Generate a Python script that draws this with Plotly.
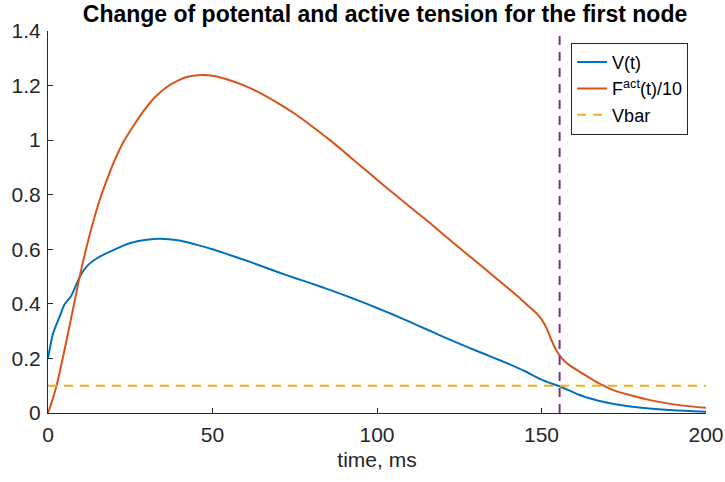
import plotly.graph_objects as go

# Membrane potential V(t) for the first node
t_v = [0, 1.5, 3.5, 5, 7, 9.7, 12, 15, 20, 25, 30, 34, 40, 45, 50, 55, 60, 65,
       70, 75, 80, 85, 90, 95, 100, 105, 110, 115, 120, 125, 130, 135, 140,
       145, 150, 153, 155.5, 158, 162, 167, 172, 177, 182, 190, 200]
v = [0.200, 0.290, 0.352, 0.398, 0.428, 0.500, 0.540, 0.568, 0.598, 0.623,
     0.635, 0.639, 0.632, 0.617, 0.600, 0.580, 0.560, 0.538, 0.516, 0.495,
     0.475, 0.454, 0.432, 0.409, 0.385, 0.360, 0.334, 0.307, 0.280, 0.254,
     0.229, 0.205, 0.180, 0.153, 0.122, 0.108, 0.098, 0.085, 0.064, 0.046,
     0.033, 0.024, 0.017, 0.010, 0.005]

# Active tension F_act(t), scaled by 1/10
t_f = [0, 1, 2.6, 5, 7.5, 10, 12.5, 15.3, 18, 20.4, 23, 26.4, 29, 32.5, 36,
       39.6, 42.5, 45.7, 50, 53.8, 59.9, 65.4, 70, 75.6, 80, 85.7, 90, 95.8,
       100, 106, 111, 116.1, 121, 127.2, 131.3, 137.3, 141, 144.4, 146.5,
       148.5, 150, 151.5, 153, 154.3, 155.6, 157, 159, 161.7, 165, 168.2,
       172, 176.8, 182, 187, 193, 200]
f10 = [0.000, 0.035, 0.100, 0.230, 0.375, 0.520, 0.645, 0.765, 0.858, 0.930,
       0.995, 1.060, 1.106, 1.157, 1.194, 1.219, 1.232, 1.238, 1.236, 1.225,
       1.199, 1.167, 1.135, 1.092, 1.053, 1.000, 0.957, 0.898, 0.855, 0.795,
       0.746, 0.696, 0.646, 0.584, 0.543, 0.483, 0.446, 0.410, 0.387, 0.365,
       0.343, 0.312, 0.268, 0.234, 0.209, 0.190, 0.171, 0.151, 0.126, 0.104,
       0.083, 0.066, 0.050, 0.038, 0.027, 0.019]

# Threshold level and the time V(t) falls below it
vbar = 0.1
t_cross = 155.5

x_ticks = [0, 50, 100, 150, 200]
y_ticks = [0, 0.2, 0.4, 0.6, 0.8, 1.0, 1.2, 1.4]
y_tick_text = ["0", "0.2", "0.4", "0.6", "0.8", "1", "1.2", "1.4"]

BLUE = "#0072BD"
ORANGE = "#D95319"
YELLOW = "#EDB120"
PURPLE = "#7E2F8E"
AX = "#262626"
FONT = "Liberation Sans, Arial, Helvetica, sans-serif"

fig = go.Figure()
fig.add_trace(go.Scatter(x=t_v, y=v, mode="lines", name="V(t)",
                         line=dict(color=BLUE, width=2, shape="spline",
                                   smoothing=0.6)))
fig.add_trace(go.Scatter(x=t_f, y=f10, mode="lines",
                         name="F<sup>act</sup>(t)/10",
                         line=dict(color=ORANGE, width=2, shape="spline",
                                   smoothing=0.6)))
fig.add_trace(go.Scatter(x=[x_ticks[0], x_ticks[-1]], y=[vbar, vbar],
                         mode="lines", name="Vbar",
                         line=dict(color=YELLOW, width=2, dash="9px,7px")))
fig.add_trace(go.Scatter(x=[t_cross, t_cross], y=[y_ticks[0], y_ticks[-1]],
                         mode="lines", showlegend=False,
                         line=dict(color=PURPLE, width=2, dash="9px,7px")))

fig.update_layout(
    width=725, height=482,
    margin=dict(l=48, r=19, t=31, b=69),
    paper_bgcolor="white", plot_bgcolor="white",
    font=dict(family=FONT, color=AX, size=20),
    title=dict(text="<b>Change of potental and active tension for the first node</b>",
               x=385 / 725, xanchor="center", xref="container",
               y=1 - 14 / 482, yanchor="middle", yref="container",
               font=dict(family=FONT, size=23, color="black")),
    xaxis=dict(range=[0, 200], tickvals=x_ticks, ticks="inside", ticklen=5,
               tickcolor=AX, showline=True, linecolor=AX, linewidth=1,
               showgrid=False, zeroline=False, automargin=False,
               ticklabelstandoff=3,
               title=dict(text="time, ms", font=dict(size=21), standoff=7),
               tickfont=dict(size=21)),
    yaxis=dict(range=[0, 1.4], tickvals=y_ticks, ticktext=y_tick_text,
               ticks="inside", ticklen=5, tickcolor=AX, showline=True,
               linecolor=AX, linewidth=1, showgrid=False, zeroline=False,
               automargin=False, ticklabelstandoff=2,
               tickfont=dict(size=21)),
    legend=dict(x=0.795, y=0.969, xanchor="left", yanchor="top",
                bgcolor="white", bordercolor=AX, borderwidth=1,
                font=dict(size=18, color="black"), itemwidth=30,
                tracegroupgap=0),
    showlegend=True,
)

fig.write_html("out.html")
